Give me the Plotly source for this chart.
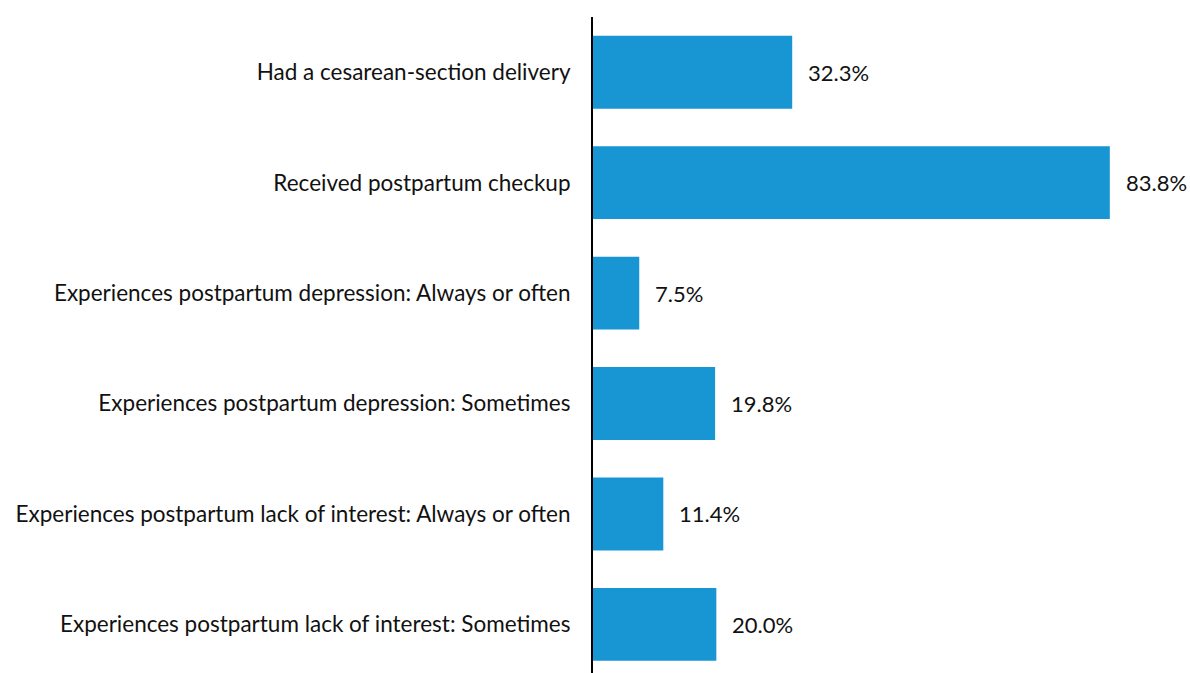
import plotly.graph_objects as go

categories = [
    "Had a cesarean-section delivery",
    "Received postpartum checkup",
    "Experiences postpartum depression: Always or often",
    "Experiences postpartum depression: Sometimes",
    "Experiences postpartum lack of interest: Always or often",
    "Experiences postpartum lack of interest: Sometimes",
]
values = [32.3, 83.8, 7.5, 19.8, 11.4, 20.0]

BAR_COLOR = "#1896d3"
FONT = "Lato, 'Open Sans', sans-serif"

fig = go.Figure(
    go.Bar(
        x=values,
        y=categories,
        orientation="h",
        marker=dict(color=BAR_COLOR, line=dict(width=0)),
        width=0.66,
        hoverinfo="skip",
    )
)

# Value labels just to the right of each bar
for cat, v in zip(categories, values):
    fig.add_annotation(
        x=v, y=cat, text=f"{v:.1f}%", showarrow=False,
        xanchor="left", yanchor="middle", xshift=14,
        font=dict(family=FONT, size=22, color="#111111"),
    )

fig.update_layout(
    width=1190, height=673,
    margin=dict(l=593, r=0, t=17, b=0),
    plot_bgcolor="white", paper_bgcolor="white",
    showlegend=False,
    font=dict(family=FONT, size=22.5, color="#111111"),
    xaxis=dict(range=[0, 96.8], showgrid=False, zeroline=False,
               showticklabels=False, showline=False, fixedrange=True),
    yaxis=dict(categoryorder="array", categoryarray=categories,
               range=[5.44, -0.5], showgrid=False, zeroline=False,
               showline=True, linecolor="black", linewidth=2,
               ticks="", ticklabelstandoff=16, fixedrange=True),
)

fig.write_html("out.html", config={"displayModeBar": False})
